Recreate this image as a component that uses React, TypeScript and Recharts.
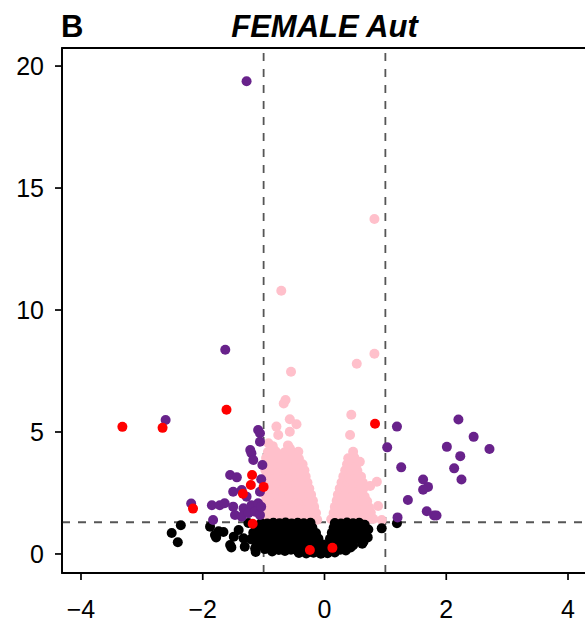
import { ScatterChart, Scatter, XAxis, YAxis, ReferenceLine, ReferenceArea } from 'recharts';

// [log2 fold change, -log10 p] per colour group

// p >= 0.05
const notSignificant: [number, number][] = [
    [-0.42, 0.04], [-0.3, 0.02], [-0.18, 0.05], [-0.06, 0.01], [0.05, 0.03], [0.17, 0.06],
    [-0.75, 0.16], [-0.65, 0.12], [-0.55, 0.17], [-0.44, 0.11], [-0.34, 0.15], [-0.24, 0.1],
    [-0.13, 0.14], [-0.03, 0.12], [0.07, 0.15], [0.17, 0.11], [0.26, 0.17], [0.35, 0.14],
    [-1.12, 0.36], [-1.02, 0.41], [-0.92, 0.35], [-0.82, 0.39], [-0.72, 0.37], [-0.62, 0.42],
    [-0.52, 0.36], [-0.42, 0.4], [-0.32, 0.37], [-0.22, 0.41], [-0.12, 0.35], [-0.02, 0.39],
    [0.08, 0.36], [0.18, 0.4], [0.28, 0.38], [0.38, 0.41], [0.47, 0.36],
    [-1.21, 0.6], [-1.1, 0.64], [-1.0, 0.59], [-0.9, 0.63], [-0.8, 0.61], [-0.7, 0.65],
    [-0.6, 0.6], [-0.5, 0.63], [-0.4, 0.59], [-0.3, 0.64], [-0.2, 0.61], [-0.1, 0.63],
    [0.09, 0.62], [0.19, 0.6], [0.29, 0.64], [0.39, 0.61], [0.49, 0.63], [0.58, 0.6],
    [-1.17, 0.87], [-1.07, 0.84], [-0.97, 0.88], [-0.87, 0.85], [-0.77, 0.89], [-0.67, 0.84],
    [-0.57, 0.87], [-0.47, 0.85], [-0.37, 0.88], [-0.27, 0.84], [-0.14, 0.86], [0.12, 0.87],
    [0.22, 0.84], [0.32, 0.88], [0.42, 0.85], [0.52, 0.87], [0.61, 0.84],
    [-1.12, 1.07], [-1.02, 1.1], [-0.92, 1.06], [-0.82, 1.09], [-0.72, 1.05], [-0.62, 1.1],
    [-0.52, 1.07], [-0.42, 1.09], [-0.32, 1.05], [-0.2, 1.08], [0.15, 1.07], [0.25, 1.1],
    [0.35, 1.06], [0.45, 1.09], [0.55, 1.05],
    [-1.04, 1.27], [-0.94, 1.25], [-0.84, 1.28], [-0.74, 1.26], [-0.64, 1.29], [-0.54, 1.25],
    [-0.44, 1.28], [-0.34, 1.26], [-0.23, 1.28], [0.17, 1.27], [0.27, 1.25], [0.37, 1.29],
    [0.47, 1.26], [0.57, 1.28],
    [-2.51, 0.86], [-2.36, 1.18], [-2.41, 0.48], [-1.88, 1.12], [-1.8, 0.78], [-1.74, 0.93],
    [-1.66, 0.9], [-1.78, 0.68], [-1.55, 0.37], [-1.53, 0.27], [-1.49, 0.71], [-1.41, 0.98],
    [-1.33, 0.64], [-1.31, 0.3], [-1.25, 1.27], [-1.14, 0.22], [-1.13, 0.08], [-1.09, 0.85],
    [-1.06, 1.12], [-0.98, 0.2], [-0.86, 0.1], [0.43, 0.27], [0.69, 0.71], [0.64, 0.5],
    [0.62, 0.42], [0.71, 0.68], [0.94, 1.05], [1.19, 1.26], [0.66, 1.2], [0.72, 1.0],
];

// p < 0.05, |log2FC| < 1
const significant: [number, number][] = [
    [-0.97, 1.42], [-0.87, 1.45], [-0.77, 1.41], [-0.67, 1.44], [-0.57, 1.4], [-0.47, 1.43],
    [-0.37, 1.41], [-0.27, 1.44], [-0.17, 1.42], [-0.12, 1.4],
    [-0.96, 1.68], [-0.86, 1.66], [-0.76, 1.7], [-0.66, 1.67], [-0.56, 1.69], [-0.46, 1.66],
    [-0.36, 1.7], [-0.26, 1.67], [-0.14, 1.68],
    [-0.97, 1.93], [-0.88, 1.95], [-0.78, 1.91], [-0.68, 1.94], [-0.58, 1.92], [-0.48, 1.95],
    [-0.38, 1.91], [-0.27, 1.94], [-0.17, 1.93],
    [-0.96, 2.18], [-0.86, 2.16], [-0.76, 2.2], [-0.66, 2.17], [-0.56, 2.19], [-0.46, 2.16],
    [-0.36, 2.2], [-0.28, 2.17], [-0.19, 2.18],
    [-0.97, 2.43], [-0.87, 2.45], [-0.77, 2.41], [-0.67, 2.44], [-0.57, 2.42], [-0.47, 2.45],
    [-0.38, 2.41], [-0.3, 2.44], [-0.22, 2.43],
    [-0.96, 2.68], [-0.86, 2.66], [-0.76, 2.7], [-0.66, 2.67], [-0.56, 2.69], [-0.46, 2.66],
    [-0.35, 2.7], [-0.25, 2.68],
    [-0.97, 2.93], [-0.87, 2.95], [-0.77, 2.91], [-0.67, 2.94], [-0.57, 2.92], [-0.47, 2.95],
    [-0.37, 2.91], [-0.28, 2.93],
    [-0.96, 3.18], [-0.86, 3.16], [-0.76, 3.2], [-0.66, 3.17], [-0.56, 3.19], [-0.46, 3.16],
    [-0.38, 3.2], [-0.31, 3.18],
    [-0.97, 3.43], [-0.87, 3.45], [-0.77, 3.41], [-0.67, 3.44], [-0.57, 3.42], [-0.47, 3.45],
    [-0.4, 3.41], [-0.33, 3.43],
    [-0.96, 3.68], [-0.86, 3.66], [-0.76, 3.7], [-0.66, 3.67], [-0.56, 3.69], [-0.46, 3.66],
    [-0.36, 3.68],
    [-0.96, 3.93], [-0.86, 3.95], [-0.74, 3.91], [-0.62, 3.94], [-0.52, 3.92], [-0.42, 3.9],
    [-0.93, 4.18], [-0.8, 4.2], [-0.66, 4.16], [-0.55, 4.22], [-0.43, 4.19],
    [-0.85, 4.42], [-0.6, 4.45], [-0.92, 4.54], [-0.57, 4.33], [-0.76, 4.88], [-0.79, 5.22],
    [-0.57, 5.01], [-0.57, 5.52], [-0.46, 5.32], [-0.64, 6.31], [-0.67, 6.17], [-0.55, 7.47],
    [-0.71, 10.79],
    [0.11, 1.42], [0.21, 1.45], [0.31, 1.41], [0.41, 1.44], [0.51, 1.4], [0.61, 1.43],
    [0.71, 1.41], [0.8, 1.44],
    [0.15, 1.68], [0.25, 1.66], [0.35, 1.7], [0.45, 1.67], [0.55, 1.69], [0.65, 1.66], [0.76, 1.7],
    [0.17, 1.93], [0.27, 1.95], [0.37, 1.91], [0.47, 1.94], [0.57, 1.92], [0.66, 1.95], [0.73, 1.91],
    [0.2, 2.18], [0.3, 2.16], [0.4, 2.2], [0.5, 2.17], [0.6, 2.19], [0.7, 2.16],
    [0.22, 2.43], [0.32, 2.45], [0.42, 2.41], [0.52, 2.44], [0.62, 2.42], [0.66, 2.35],
    [0.25, 2.68], [0.35, 2.66], [0.45, 2.7], [0.55, 2.67], [0.64, 2.69],
    [0.28, 2.93], [0.38, 2.95], [0.48, 2.91], [0.58, 2.94], [0.63, 2.92],
    [0.31, 3.18], [0.41, 3.16], [0.51, 3.2], [0.6, 3.17],
    [0.34, 3.43], [0.44, 3.45], [0.54, 3.41],
    [0.37, 3.68], [0.46, 3.66], [0.53, 3.7],
    [0.39, 3.92], [0.49, 3.95], [0.47, 4.19], [0.58, 3.78],
    [0.86, 2.96], [0.75, 2.79], [0.88, 1.97], [0.94, 1.39], [0.42, 4.88], [0.44, 5.71],
    [0.53, 7.8], [0.82, 8.21], [0.82, 13.73],
];

// p < 0.05, |log2FC| >= 1
const significantFC: [number, number][] = [
    [2.2, 5.51], [1.19, 5.22], [2.45, 4.8], [1.03, 4.37], [2.01, 4.39], [2.71, 4.3],
    [2.23, 4.01], [1.26, 3.55], [2.13, 3.51], [2.25, 3.05], [1.62, 3.05], [1.7, 2.75],
    [1.62, 2.63], [1.37, 2.21], [1.68, 1.75], [1.8, 1.58], [1.84, 1.58], [1.2, 1.5],
    [-1.28, 19.38], [-1.63, 8.37], [-2.61, 5.49], [-2.19, 2.07], [-1.09, 5.08], [-1.06, 4.95],
    [-1.06, 4.6], [-1.22, 4.26], [-1.2, 4.13], [-1.17, 3.85], [-1.02, 3.65], [-1.55, 3.24],
    [-1.44, 3.14], [-1.04, 3.06], [-1.5, 2.55], [-1.36, 2.62], [-1.28, 2.35], [-1.06, 2.55],
    [-1.85, 2.0], [-1.72, 2.0], [-1.64, 2.08], [-1.5, 1.94], [-1.33, 1.87], [-1.2, 2.0],
    [-1.09, 2.08], [-1.83, 1.39], [-1.47, 1.6], [-1.36, 1.53], [-1.25, 1.67], [-1.14, 1.73],
    [-1.06, 1.6], [-1.04, 1.94],
];

// genes of interest
const highlighted: [number, number][] = [
    [-3.32, 5.21], [-2.66, 5.17], [-2.16, 1.86], [-1.61, 5.91], [-1.19, 3.24], [-1.21, 2.83],
    [-1.0, 2.75], [-1.34, 2.47], [-1.18, 1.24], [-0.24, 0.16], [0.13, 0.25], [0.83, 5.34],
];

const xTicks = [-4, -2, 0, 2, 4];
const yTicks = [0, 5, 10, 15, 20];
const xDomain: [number, number] = [-4.312, 4.312];
const yDomain: [number, number] = [-0.78, 20.74];
const pCutoff = 1.301; // -log10(0.05)
const fcCutoff = 1;

const FONT = '"Liberation Sans", Arial, Helvetica, sans-serif';

const toPoints = (arr: [number, number][]) => arr.map(([x, y]) => ({ x, y }));

const dot = (fill: string) => (props: any) => (
    <circle cx={props.cx} cy={props.cy} r={5} fill={fill} />
);

const tickStyle = { fill: '#000', fontSize: 25, fontFamily: FONT };
const lineStyle = { stroke: '#000', strokeWidth: 1.7 };

export default function App() {
    return (
        <div style={{ position: 'absolute', left: 0, top: 0, width: 585, height: 623, overflow: 'hidden', background: '#fff' }}>
            <ScatterChart width={600} height={623} margin={{ top: 48, right: 13, bottom: 0, left: 0 }}>
                <XAxis
                    dataKey="x"
                    type="number"
                    domain={xDomain}
                    ticks={xTicks}
                    interval={0}
                    allowDataOverflow
                    height={50}
                    tickSize={7}
                    tickMargin={20}
                    tick={tickStyle}
                    tickLine={lineStyle}
                    axisLine={lineStyle}
                    tickFormatter={(v: number) => String(v).replace('-', '\u2212')}
                />
                <YAxis
                    dataKey="y"
                    type="number"
                    domain={yDomain}
                    ticks={yTicks}
                    interval={0}
                    allowDataOverflow
                    width={62}
                    tickSize={7}
                    tickMargin={11}
                    tick={tickStyle}
                    tickLine={lineStyle}
                    axisLine={lineStyle}
                />
                <Scatter data={toPoints(significant)} shape={dot('#FFC0CB')} isAnimationActive={false} />
                <Scatter data={toPoints(notSignificant)} shape={dot('#000000')} isAnimationActive={false} />
                <Scatter data={toPoints(significantFC)} shape={dot('#68228B')} isAnimationActive={false} />
                <Scatter data={toPoints(highlighted)} shape={dot('#FF0000')} isAnimationActive={false} />
                <ReferenceLine y={pCutoff} stroke="#555" strokeWidth={1.8} strokeDasharray="8 8" />
                <ReferenceLine x={-fcCutoff} stroke="#555" strokeWidth={1.8} strokeDasharray="8 8" />
                <ReferenceLine x={fcCutoff} stroke="#555" strokeWidth={1.8} strokeDasharray="8 8" />
                <ReferenceArea
                    x1={xDomain[0]}
                    x2={xDomain[1]}
                    y1={yDomain[0]}
                    y2={yDomain[1]}
                    fill="none"
                    stroke="#000"
                    strokeWidth={1.8}
                    ifOverflow="visible"
                />
            </ScatterChart>
            <svg width={585} height={48} style={{ position: 'absolute', left: 0, top: 0 }}>
                <text x={61} y={37} fontFamily={FONT} fontWeight="bold" fontSize={31} fill="#000">B</text>
                <text x={324.5} y={37} textAnchor="middle" fontFamily={FONT} fontWeight="bold" fontStyle="italic" fontSize={31} fill="#000">
                    FEMALE Aut
                </text>
            </svg>
        </div>
    );
}
